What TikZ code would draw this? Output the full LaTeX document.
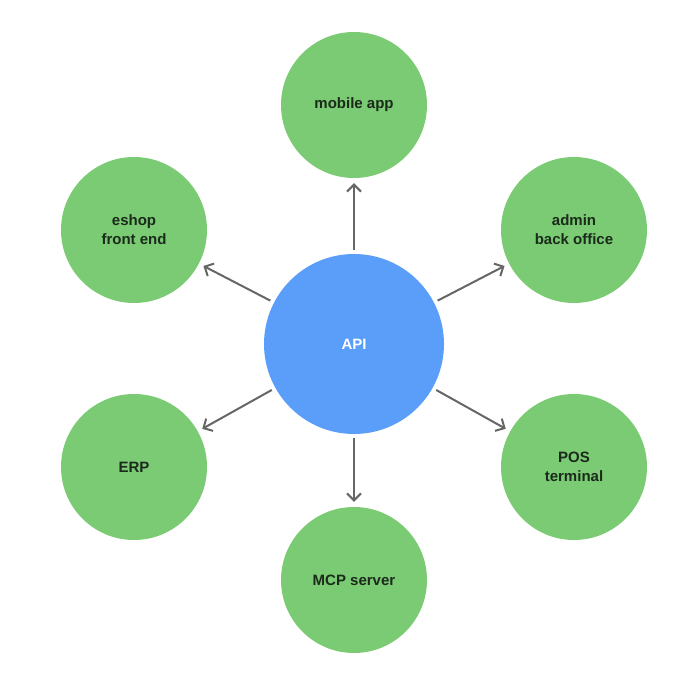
\documentclass[tikz,border=0pt]{standalone}
\usepackage{fontspec}
\setmainfont{Liberation Sans}
\usetikzlibrary{arrows.meta}
\definecolor{satgreen}{HTML}{7ACB73}
\definecolor{apiblue}{HTML}{5B9EF9}
\definecolor{arrowgray}{HTML}{666666}
\definecolor{textdark}{HTML}{1B2A1B}
\tikzset{
  sat/.style={circle,fill=satgreen,minimum size=146pt,inner sep=0pt,
    align=center,font=\bfseries\fontsize{15}{19}\selectfont,text=textdark},
  api/.style={circle,fill=apiblue,minimum size=180pt,inner sep=0pt,
    font=\bfseries\fontsize{15}{19}\selectfont,text=white},
  link/.style={-{Straight Barb[length=7pt,width=14pt]},line width=2pt,
    draw=arrowgray,shorten <=4pt,shorten >=5pt}
}
\begin{document}
\begin{tikzpicture}[x=1pt,y=1pt]
\useasboundingbox (0,0) rectangle (699,688);
\node[api] (api) at (354,344) {API};
%satellites
\node[sat] (mobile) at (354,583) {mobile app};
\node[sat] (eshop) at (134,458) {eshop\\front end};
\node[sat] (admin) at (574,458) {admin\\back office};
\node[sat] (erp) at (134,221) {ERP};
\node[sat] (pos) at (574,221) {POS\\terminal};
\node[sat] (mcp) at (354,108) {MCP server};
%links
\foreach \t in {mobile,eshop,admin,erp,pos,mcp}
  \draw[link] (api) -- (\t);
\end{tikzpicture}
\end{document}
